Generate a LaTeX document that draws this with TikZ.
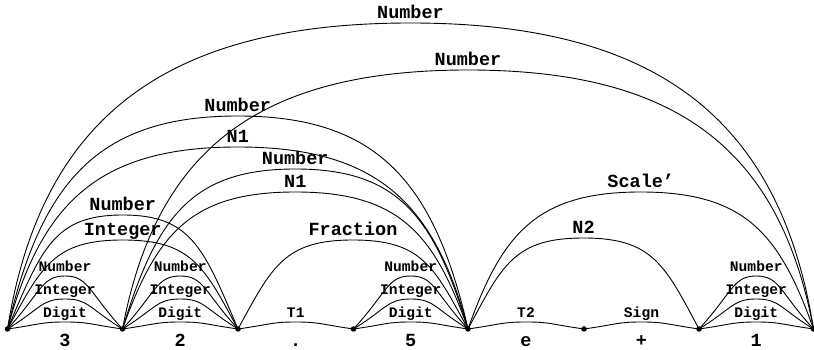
\documentclass[tikz,border=0pt]{standalone}
\usepackage{fontspec}
\newfontfamily\lmono{Liberation Mono}
\usetikzlibrary{calc}
\tikzset{
  dot/.style={circle,fill,inner sep=0pt,minimum size=5.5pt},
  arcline/.style={line width=0.9pt},
  biglab/.style={font=\lmono\bfseries\fontsize{18.5}{18.5}\selectfont,anchor=base,inner sep=0pt,yshift=4pt},
  smalllab/.style={font=\lmono\bfseries\fontsize{14.6}{14.6}\selectfont,anchor=base,inner sep=0pt,yshift=4pt},
  wordlab/.style={font=\lmono\bfseries\fontsize{18.5}{18.5}\selectfont,anchor=base,inner sep=0pt},
}
\newcommand\chartarc[5]{%
  \draw[arcline] let \p1=(#1.center), \p2=(#2.center), \n1={0.5*(\x2-\x1)},
      \n2={min(0.6*\n1,\n1-34)} in
    (#1.center) .. controls +(34,{0.7*#3}) and +({-\n2},0) .. ({\x1+\n1},{\y1+#3})
    node[#4] {#5}
    .. controls +({\n2},0) and +(-34,{0.7*#3}) .. (#2.center);
}
\begin{document}
\begin{tikzpicture}[x=1pt,y=1pt]
\useasboundingbox (0,0) rectangle (814,350);
\foreach \i/\x in {0/7.5,1/122.5,2/238,3/353.5,4/468,5/584,6/699,7/813.5}
  \node[dot] (p\i) at (\x,21) {};
% small arcs
\foreach \a/\b in {p0/p1,p1/p2,p3/p4,p6/p7}{
  \chartarc{\a}{\b}{7}{smalllab}{Digit}
  \chartarc{\a}{\b}{30}{smalllab}{Integer}
  \chartarc{\a}{\b}{53}{smalllab}{Number}
}
\chartarc{p2}{p3}{7}{smalllab}{T1}
\chartarc{p4}{p5}{7}{smalllab}{T2}
\chartarc{p5}{p6}{7}{smalllab}{Sign}
% big arcs
\chartarc{p0}{p2}{89}{biglab}{Integer}
\chartarc{p0}{p2}{114}{biglab}{Number}
\chartarc{p2}{p4}{89}{biglab}{Fraction}
\chartarc{p1}{p4}{137}{biglab}{N1}
\chartarc{p1}{p4}{160}{biglab}{Number}
\chartarc{p0}{p4}{182}{biglab}{N1}
\chartarc{p0}{p4}{213}{biglab}{Number}
\chartarc{p4}{p6}{91}{biglab}{N2}
\chartarc{p4}{p7}{137}{biglab}{Scale’}
\chartarc{p1}{p7}{259}{biglab}{Number}
\chartarc{p0}{p7}{306}{biglab}{Number}
% words
\node[wordlab] (w0) at (65,3) {3};
\node[wordlab] (w1) at (180.25,3) {2};
\node[wordlab] (w2) at (295.75,3) {.};
\node[wordlab] (w3) at (410.75,3) {5};
\node[wordlab] (w4) at (526,3) {e};
\node[wordlab] (w5) at (641.5,3) {+};
\node[wordlab] (w6) at (756.25,3) {1};
\end{tikzpicture}
\end{document}
